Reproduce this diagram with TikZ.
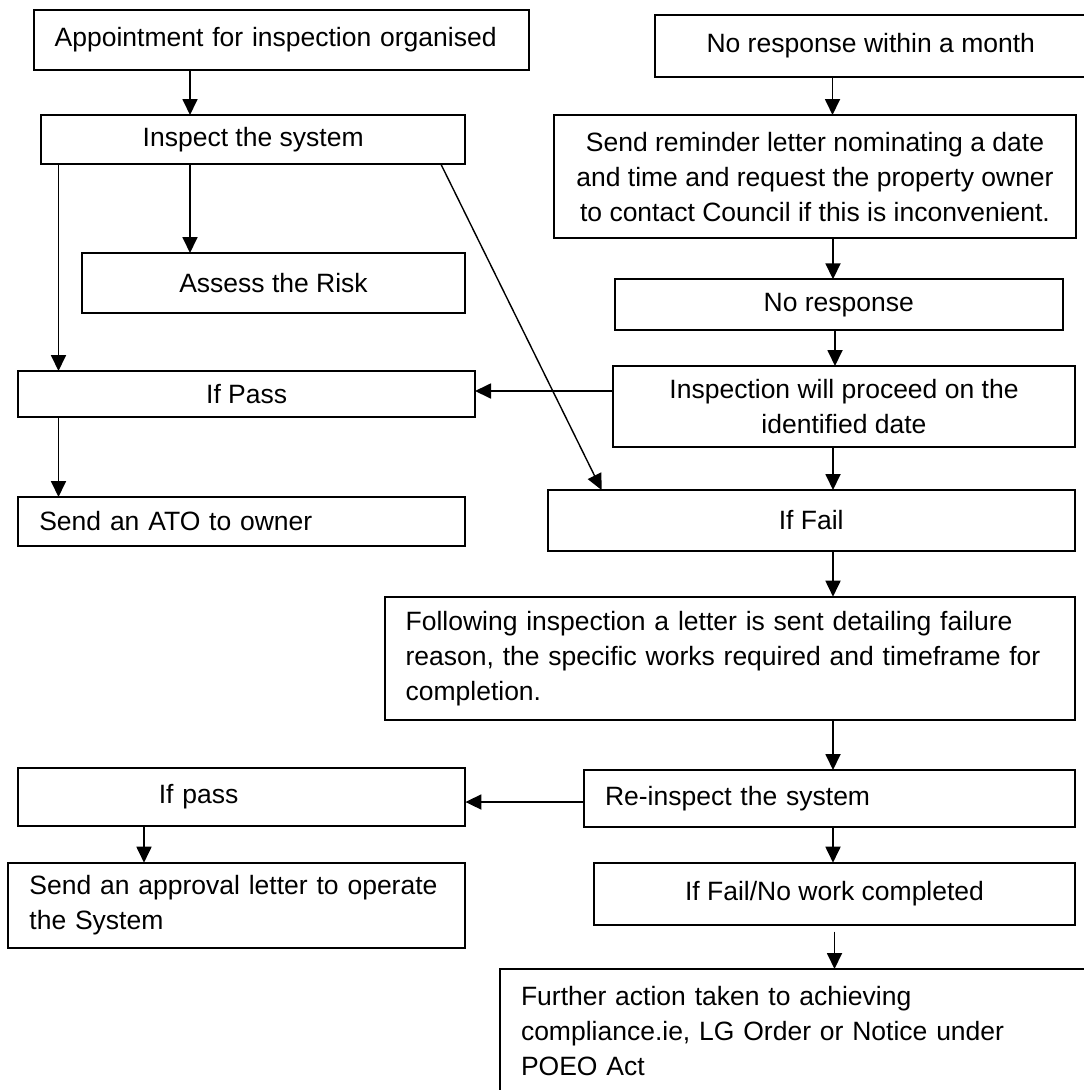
\documentclass[tikz,border=0pt]{standalone}
\usepackage{fontspec}
\setmainfont{Liberation Sans}
\usetikzlibrary{arrows.meta}

\begin{document}
\begin{tikzpicture}[x=1pt,y=-1pt,
  box/.style={draw=black,line width=2pt,outer sep=0pt,inner sep=0pt,anchor=north west,font=\fontsize{26.5}{35}\selectfont,align=center},
  lbox/.style={box,align=left,inner xsep=21pt},
  arr/.style={black,line width=1.8pt,-{Triangle[length=16pt,width=15pt]}}]
\useasboundingbox (0,0) rectangle (1084,1090);
\clip (0,0) rectangle (1084,1090);
\node [lbox,minimum width=495.3pt,minimum height=60pt,text width=453.3pt] (appt) at (33.7,10) {Appointment for inspection organised};
\node [box,minimum width=432.5pt,minimum height=61.7pt] (noresp) at (654.5,15) {No response within a month};
\node [box,minimum width=423.7pt,minimum height=49.3pt] (inspect) at (41.3,115) {Inspect the system};
\node [box,minimum width=522pt,minimum height=123.3pt] (remind) at (554,115) {Send reminder letter nominating a date\\and time and request the property owner\\to contact Council if this is inconvenient.};
\node [box,minimum width=383pt,minimum height=60pt] (assess) at (82,253) {Assess the Risk};
\node [box,minimum width=448.4pt,minimum height=50.7pt] (noreply) at (614.6,279.3) {No response};
\node [box,minimum width=456.7pt,minimum height=45.7pt] (ifpass) at (18.3,371) {If Pass};
\node [box,minimum width=462pt,minimum height=81pt] (proceed) at (613,366) {Inspection will proceed on the\\identified date};
\node [lbox,minimum width=446.7pt,minimum height=48.7pt,text width=404.7pt] (ato) at (18.3,497) {Send an ATO to owner};
\node [box,minimum width=527.5pt,minimum height=61pt] (iffail) at (547.5,490) {If Fail};
\node [lbox,minimum width=690.4pt,minimum height=123.3pt,text width=648.4pt] (follow) at (384.6,596.7) {Following inspection a letter is sent detailing failure\\reason, the specific works required and timeframe for\\completion.};
\node [lbox,minimum width=447.4pt,minimum height=57.7pt,text width=405.4pt] (repass) at (18,768.3) {\hspace*{119.8pt}If pass};
\node [lbox,minimum width=491pt,minimum height=57.3pt,text width=449pt] (reinsp) at (584,770) {Re-inspect the system};
\node [lbox,minimum width=457pt,minimum height=85.6pt,text width=415pt] (approve) at (8.4,862.7) {Send an approval letter to operate\\the System};
\node [box,minimum width=481pt,minimum height=62.6pt] (nowork) at (594,862.7) {If Fail/No work completed};
\node [lbox,minimum width=600pt,minimum height=125pt,text width=558pt] (further) at (500,969) {Further action taken to achieving\\compliance.ie, LG Order or Notice under\\POEO Act};
\draw [arr] (190,0 |- appt.south) -- (190,0 |- inspect.north);
\draw [arr] (832.5,0 |- noresp.south) -- (832.5,0 |- remind.north);
\draw [arr] (58.5,0 |- inspect.south) -- (58.5,0 |- ifpass.north);
\draw [arr] (190,0 |- inspect.south) -- (190,0 |- assess.north);
\draw [arr,line width=1.4pt] (441,0 |- inspect.south) -- (601.6,0 |- iffail.north);
\draw [arr] (833,0 |- remind.south) -- (833,0 |- noreply.north);
\draw [arr] (835,0 |- noreply.south) -- (835,0 |- proceed.north);
\draw [arr] (proceed.west |- 0,391) -- (ifpass.east |- 0,391);
\draw [arr] (833,0 |- proceed.south) -- (833,0 |- iffail.north);
\draw [arr] (58.5,0 |- ifpass.south) -- (58.5,0 |- ato.north);
\draw [arr] (833,0 |- iffail.south) -- (833,0 |- follow.north);
\draw [arr] (833,0 |- follow.south) -- (833,0 |- reinsp.north);
\draw [arr] (reinsp.west |- 0,802) -- (repass.east |- 0,802);
\draw [arr] (144,0 |- repass.south) -- (144,0 |- approve.north);
\draw [arr] (833,0 |- reinsp.south) -- (833,0 |- nowork.north);
\draw [arr] ([yshift=-6.4pt]nowork.south) -- (nowork.south |- further.north);
\end{tikzpicture}
\end{document}
